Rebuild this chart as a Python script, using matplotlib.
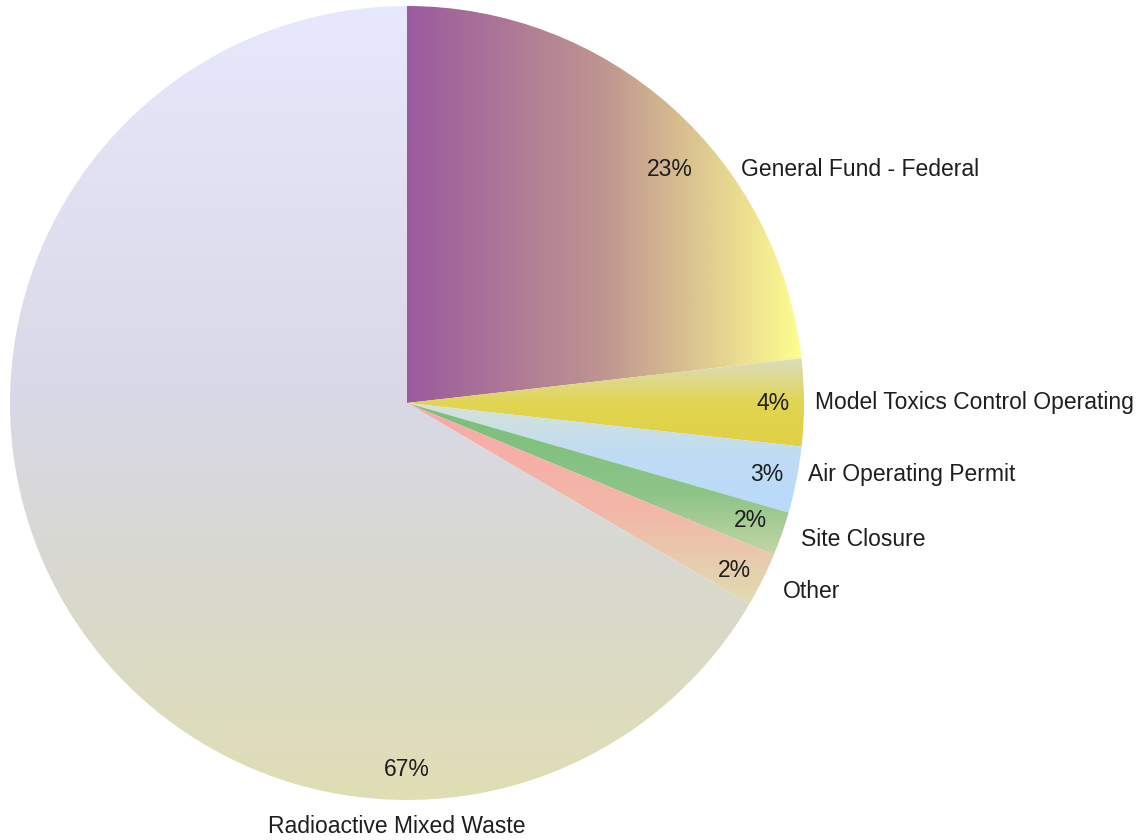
import numpy as np
import matplotlib
matplotlib.use("Agg")
import matplotlib.pyplot as plt
from matplotlib.colors import LinearSegmentedColormap

# Funding sources and their shares of the total (percent)
sources = [
    "General Fund - Federal",
    "Model Toxics Control Operating",
    "Air Operating Permit",
    "Site Closure",
    "Other",
    "Radioactive Mixed Waste",
]
shares = [23.2, 3.55, 2.7, 1.8, 2.2, 66.55]

# Gradient stops for each slice: (direction, [(position, colour), ...])
fills = [
    ("h", [(0.0, "#9b5a9e"), (0.5, "#bf9590"), (1.0, "#fefe90")]),
    ("v", [(0.0, "#dcdcc0"), (0.5, "#e1d552"), (1.0, "#e0d044")]),
    ("v", [(0.0, "#d6e2d6"), (0.45, "#c0dcf4"), (1.0, "#b8dafc")]),
    ("v", [(0.0, "#78bf7a"), (0.6, "#8ec488"), (1.0, "#c4d6a6")]),
    ("v", [(0.0, "#fba8a8"), (0.55, "#f2b8a8"), (1.0, "#e0dcb2")]),
    ("v", [(0.0, "#e8e8fd"), (0.5, "#d8d8e6"), (0.75, "#d9d9cc"), (1.0, "#e0deb4")]),
]

# Label placement in units of the pie radius, relative to the pie centre
pct_pos = [(0.662, 0.587), (0.922, 0.0), (0.907, -0.179),
           (0.866, -0.297), (0.826, -0.421), (0.0, -0.924)]
name_pos = [(0.841, 0.587, "left"), (1.028, 0.0, "left"), (1.010, -0.179, "left"),
            (0.992, -0.345, "left"), (0.947, -0.476, "left"), (-0.025, -1.068, "center")]

W, H = 1143, 840
cx, cy, R = 407, 437, 397

plt.rcParams["font.family"] = ["Liberation Sans", "DejaVu Sans"]
fig = plt.figure(figsize=(W / 100, H / 100), dpi=100)
ax = fig.add_axes([0, 0, 1, 1])
ax.set_xlim(0, W)
ax.set_ylim(0, H)
ax.set_aspect("equal")
ax.axis("off")

wedges, _, autotexts = ax.pie(
    shares, center=(cx, cy), radius=R, startangle=90, counterclock=False,
    autopct="%.0f%%", frame=True,
    wedgeprops=dict(facecolor="none", edgecolor="none", linewidth=0),
)
ax.set_xlim(0, W)
ax.set_ylim(0, H)
ax.axis("off")

for wedge, (direction, stops) in zip(wedges, fills):
    ext = wedge.get_path().get_extents()
    cmap = LinearSegmentedColormap.from_list("g", stops, N=256)
    ramp = np.linspace(0, 1, 256)
    if direction == "h":
        img = ramp[np.newaxis, :]
    else:
        img = ramp[:, np.newaxis]
    im = ax.imshow(img, cmap=cmap, vmin=0, vmax=1, origin="upper",
                   extent=(ext.x0, ext.x1, ext.y0, ext.y1),
                   aspect="auto", interpolation="bicubic", zorder=1)
    im.set_clip_path(wedge)

text_color = "#1e1e1e"
for t, (fx, fy) in zip(autotexts, pct_pos):
    t.set_position((cx + fx * R, cy + fy * R))
    t.set_fontsize(16.5)
    t.set_color(text_color)
    t.set_ha("center")
    t.set_va("center")
    t.set_zorder(3)

for name, (fx, fy, ha) in zip(sources, name_pos):
    ax.text(cx + fx * R, cy + fy * R, name, ha=ha, va="center",
            fontsize=16.5, color=text_color, zorder=3)

ax.set_xlim(0, W)
ax.set_ylim(0, H)
fig.savefig("out.png", dpi=100, facecolor="white")
